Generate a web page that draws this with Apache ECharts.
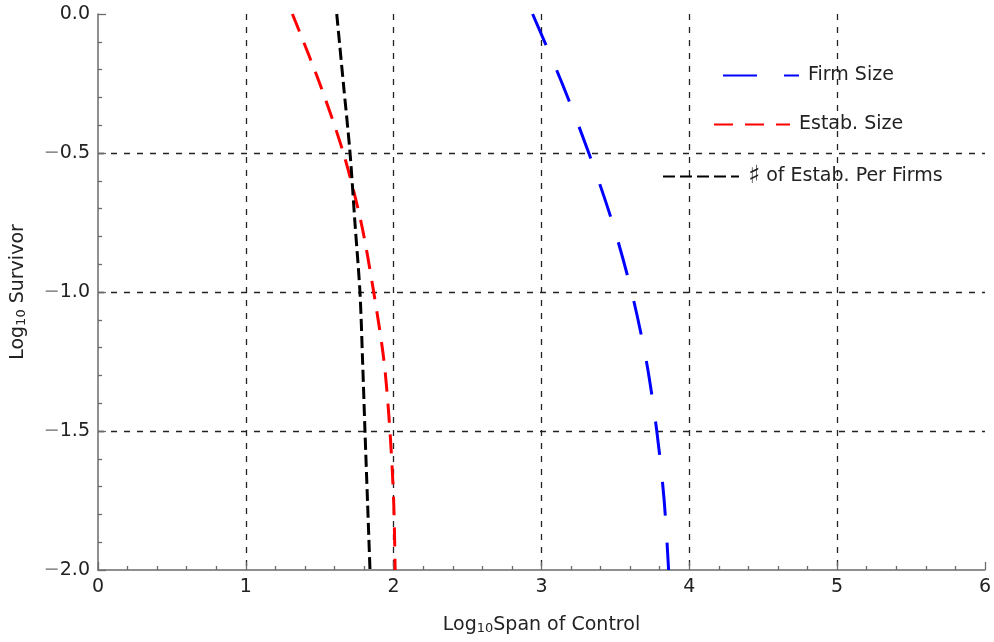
<!DOCTYPE html>
<html>
<head>
<meta charset="utf-8">
<script src="https://cdn.jsdelivr.net/npm/echarts@6/dist/echarts.min.js"></script>
<style>html,body{margin:0;padding:0;background:#fff;}#c{width:994px;height:642px;}</style>
</head>
<body>
<div id="c"></div>
<script>
// Data (x = Log10 Span of Control, y = Log10 Survivor)
const yLevels       = [0, -0.25, -0.5, -0.75, -1, -1.25, -1.5, -1.75, -2];
const firmSizeX     = [2.94, 3.14, 3.32, 3.48, 3.61, 3.71, 3.78, 3.83, 3.86];
const estabSizeX    = [1.315, 1.50, 1.66, 1.78, 1.865, 1.935, 1.975, 2.0, 2.01];
const estabPerFirmX = [1.615, 1.66, 1.705, 1.738, 1.772, 1.79, 1.806, 1.823, 1.84];
const seriesNames   = ['Firm Size', 'Estab. Size', '\u266F of Estab. Per Firms'];

const FONT = 'DejaVu Sans';
function pairs(xs) { return xs.map((x, i) => [x, yLevels[i]]); }

const chart = echarts.init(document.getElementById('c'), null, {renderer: 'canvas'});
const gridLine = {show: true, showMinLine: false, showMaxLine: false,
  lineStyle: {type: [6, 7], color: '#222', width: 1.3}};
const axisLineStyle = {show: true, onZero: false, lineStyle: {color: '#6b6b6b', width: 1.5}};

function legendAt(name, left, top) {
  return {
    data: [name], left: left, top: top, orient: 'horizontal',
    itemWidth: 76, itemHeight: 14, selectedMode: false,
    itemStyle: {opacity: 0},
    formatter: n => n.replace('\u266F', '{s|\u266F}'),
    textStyle: {fontFamily: FONT, fontSize: 19, color: '#222', padding: [0, 0, 0, 4],
      rich: {s: {fontFamily: FONT, fontSize: 25, color: '#222'}}}
  };
}

const nameRich = {
  a: {fontFamily: FONT, fontSize: 19, color: '#222', lineHeight: 24, verticalAlign: 'bottom'},
  b: {fontFamily: FONT, fontSize: 13, color: '#222', lineHeight: 18, verticalAlign: 'bottom'}
};

chart.setOption({
  animation: false,
  backgroundColor: '#fff',
  grid: {left: 98, right: 8, top: 14, bottom: 72},
  legend: [
    legendAt(seriesNames[0], 717, 61),
    legendAt(seriesNames[1], 708, 110),
    legendAt(seriesNames[2], 657, 159)
  ],
  xAxis: {
    type: 'value', min: 0, max: 6, interval: 1,
    name: '{a|Log}{b|10}{a|Span of Control}',
    nameLocation: 'middle', nameGap: 41,
    nameTextStyle: {rich: nameRich},
    axisLine: axisLineStyle,
    axisTick: {show: true, inside: true, length: 8, lineStyle: {color: '#6b6b6b', width: 1.3}},
    minorTick: {show: true, splitNumber: 5, length: 4, lineStyle: {color: '#6b6b6b', width: 1.3}},
    axisLabel: {fontFamily: FONT, fontSize: 19, color: '#222', margin: 8, formatter: v => String(v)},
    splitLine: gridLine
  },
  yAxis: {
    type: 'value', min: -2, max: 0, interval: 0.5,
    name: '{a|Log}{b|10}{a| Survivor}',
    nameLocation: 'middle', nameGap: 70,
    nameTextStyle: {rich: nameRich},
    axisLine: axisLineStyle,
    axisTick: {show: true, inside: true, length: 8, lineStyle: {color: '#6b6b6b', width: 1.3}},
    minorTick: {show: true, splitNumber: 5, length: 4, lineStyle: {color: '#6b6b6b', width: 1.3}},
    axisLabel: {
      margin: 8,
      formatter: v => {
        const s = Math.abs(v).toFixed(1);
        return v < 0 ? '{m|\u2212}{n|' + s + '}' : '{n|' + s + '}';
      },
      rich: {
        m: {fontFamily: FONT, fontSize: 19, color: '#888'},
        n: {fontFamily: FONT, fontSize: 19, color: '#222'}
      }
    },
    splitLine: gridLine
  },
  series: [
    {name: seriesNames[0], type: 'line', data: pairs(firmSizeX), showSymbol: false, symbol: 'none',
     smooth: 0.3, color: '#0000ff', lineStyle: {color: '#0000ff', width: 3, type: [34, 27]}},
    {name: seriesNames[1], type: 'line', data: pairs(estabSizeX), showSymbol: false, symbol: 'none',
     smooth: 0.3, color: '#ff0000', lineStyle: {color: '#ff0000', width: 3, type: [19, 12]}},
    {name: seriesNames[2], type: 'line', data: pairs(estabPerFirmX), showSymbol: false, symbol: 'none',
     smooth: 0.3, color: '#000000', lineStyle: {color: '#000000', width: 3, type: [12, 5]}}
  ]
});
</script>
</body>
</html>
